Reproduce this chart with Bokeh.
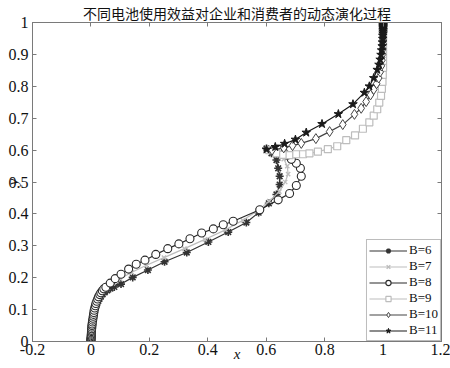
from bokeh.plotting import figure
from bokeh.models import Range1d, FixedTicker, PrintfTickFormatter, LinearAxis, Legend, LegendItem
from bokeh.embed import file_html
from bokeh.resources import INLINE

title_text = "不同电池使用效益对企业和消费者的动态演化过程"
x_ticks = [-0.2, 0, 0.2, 0.4, 0.6, 0.8, 1.0, 1.2]
y_ticks = [0, 0.1, 0.2, 0.3, 0.4, 0.5, 0.6, 0.7, 0.8, 0.9, 1.0]

# B=6 (asterisk)
b6_x = [0, 0, 0, 0.0003, 0.0005, 0.0007, 0.001, 0.0012, 0.0015, 0.0018, 0.002, 0.0025, 0.003, 0.0035,
        0.004, 0.005, 0.006, 0.007, 0.008, 0.009, 0.011, 0.013, 0.015, 0.018, 0.021, 0.025, 0.029, 0.034,
        0.040, 0.047, 0.056, 0.067, 0.080, 0.103, 0.143, 0.195, 0.252, 0.328, 0.402,
        0.470, 0.532, 0.574, 0.609, 0.635, 0.646, 0.646, 0.641, 0.635, 0.618, 0.601]
b6_y = [0, 0.003, 0.006, 0.009, 0.012, 0.015, 0.019, 0.023, 0.027, 0.031, 0.035, 0.040, 0.045, 0.050,
        0.055, 0.061, 0.067, 0.073, 0.079, 0.085, 0.092, 0.099, 0.106, 0.113, 0.120, 0.127, 0.134, 0.141,
        0.148, 0.154, 0.160, 0.166, 0.171, 0.180, 0.201, 0.224, 0.250, 0.279, 0.312,
        0.343, 0.373, 0.404, 0.433, 0.461, 0.492, 0.518, 0.543, 0.569, 0.590, 0.605]

# B=7 (x, light gray)
b7_x = [0, 0, 0, 0.0003, 0.0005, 0.0007, 0.001, 0.0012, 0.0015, 0.0018, 0.002, 0.0025, 0.003, 0.0035,
        0.004, 0.005, 0.006, 0.007, 0.008, 0.009, 0.010, 0.012, 0.014, 0.017, 0.020, 0.023, 0.027, 0.031,
        0.036, 0.042, 0.049, 0.058, 0.075, 0.10, 0.14, 0.19, 0.25, 0.32, 0.39, 0.46,
        0.52, 0.57, 0.61, 0.645, 0.665, 0.675, 0.672, 0.660, 0.640, 0.615]
b7_y = [0, 0.003, 0.006, 0.009, 0.012, 0.015, 0.019, 0.023, 0.027, 0.031, 0.035, 0.040, 0.045, 0.050,
        0.055, 0.061, 0.067, 0.073, 0.079, 0.085, 0.092, 0.099, 0.106, 0.113, 0.120, 0.127, 0.134, 0.141,
        0.148, 0.155, 0.162, 0.169, 0.182, 0.197, 0.217, 0.239, 0.263, 0.291, 0.320, 0.350,
        0.380, 0.410, 0.440, 0.470, 0.500, 0.525, 0.550, 0.572, 0.590, 0.602]

# B=8 (circle)
b8_x = [0, 0, 0, 0.0003, 0.0005, 0.0007, 0.001, 0.0012, 0.0015, 0.0018, 0.002, 0.0025, 0.003, 0.0035,
        0.004, 0.005, 0.006, 0.007, 0.008, 0.009, 0.010, 0.011, 0.013, 0.015, 0.017, 0.020, 0.023, 0.026,
        0.030, 0.034, 0.039, 0.044, 0.051, 0.066, 0.083, 0.103, 0.129, 0.155, 0.185,
        0.222, 0.263, 0.301, 0.339, 0.379, 0.419, 0.453, 0.487, 0.578, 0.641, 0.680, 0.703, 0.720, 0.717,
        0.703, 0.686, 0.672, 0.658, 0.640]
b8_y = [0, 0.003, 0.006, 0.009, 0.012, 0.015, 0.019, 0.023, 0.027, 0.031, 0.035, 0.040, 0.045, 0.050,
        0.055, 0.061, 0.067, 0.073, 0.079, 0.085, 0.091, 0.098, 0.105, 0.112, 0.119, 0.126, 0.133, 0.140,
        0.147, 0.153, 0.159, 0.165, 0.170, 0.183, 0.197, 0.211, 0.227, 0.242, 0.255,
        0.273, 0.291, 0.306, 0.322, 0.340, 0.353, 0.366, 0.377, 0.413, 0.444, 0.464, 0.489, 0.518, 0.543,
        0.559, 0.571, 0.584, 0.595, 0.603]

# B=9 (square, light gray)
b9_x = [0.61, 0.635, 0.658, 0.680, 0.703, 0.726, 0.748, 0.777, 0.811, 0.843, 0.874, 0.904, 0.931, 0.953, 0.968,
        0.980, 0.987, 0.993, 0.996, 0.998, 0.999, 1.0, 1.0, 1.0, 1.0, 1.0, 1.0, 1.0, 1.0, 1.0, 1.0, 1.0, 1.0]
b9_y = [0.600, 0.590, 0.585, 0.584, 0.587, 0.587, 0.590, 0.595, 0.603, 0.612, 0.631, 0.646, 0.667, 0.687, 0.708,
        0.728, 0.749, 0.770, 0.792, 0.814, 0.836, 0.858, 0.880, 0.902, 0.922, 0.941, 0.958, 0.970, 0.980, 0.988,
        0.994, 0.998, 1.0]

# B=10 (diamond)
b10_x = [0.62, 0.66, 0.69, 0.72, 0.77, 0.817, 0.862, 0.902, 0.925, 0.942, 0.957, 0.968, 0.978, 0.985, 0.990,
         0.994, 0.996, 0.998, 0.999, 1.0, 1.0, 1.0, 1.0, 1.0, 1.0, 1.0, 1.0, 1.0, 1.0, 1.0]
b10_y = [0.600, 0.607, 0.614, 0.621, 0.636, 0.658, 0.680, 0.712, 0.731, 0.752, 0.773, 0.790, 0.808, 0.826, 0.845,
         0.864, 0.882, 0.900, 0.917, 0.933, 0.945, 0.956, 0.966, 0.974, 0.981, 0.987, 0.992, 0.995, 0.998, 1.0]

# B=11 (star)
b11_x = [0.601, 0.631, 0.663, 0.700, 0.737, 0.791, 0.847, 0.897, 0.936, 0.953, 0.968, 0.980, 0.986, 0.990,
         0.993, 0.995, 0.997, 0.998, 0.999, 0.999, 1.0, 1.0, 1.0, 1.0, 1.0, 1.0, 1.0, 1.0, 1.0, 1.0, 1.0]
b11_y = [0.602, 0.610, 0.620, 0.633, 0.655, 0.682, 0.713, 0.744, 0.780, 0.800, 0.826, 0.852, 0.868, 0.884,
         0.899, 0.913, 0.926, 0.938, 0.949, 0.959, 0.966, 0.972, 0.977, 0.982, 0.986, 0.989, 0.992, 0.995,
         0.997, 0.999, 1.0]

labels = ["B=6", "B=7", "B=8", "B=9", "B=10", "B=11"]

SERIF = "Liberation Serif"
AX = "#7a7a7a"

p = figure(width=450, height=368, output_backend="svg", toolbar_location=None,
           x_range=Range1d(-0.2, 1.2), y_range=Range1d(0, 1),
           min_border_left=32, min_border_right=9, min_border_top=0, min_border_bottom=27)
p.title.text = title_text
p.title.align = "center"
p.title.text_font = "Noto Sans CJK SC"
p.title.text_font_size = "14px"
p.title.text_font_style = "normal"
p.title.text_color = "#111111"
p.title.standoff = 0
p.title.offset = 0
p.grid.visible = False
p.outline_line_color = AX
p.background_fill_color = "white"

for ax in p.xaxis:
    ax.ticker = FixedTicker(ticks=x_ticks)
for ax in p.yaxis:
    ax.ticker = FixedTicker(ticks=y_ticks)

def style_axis(ax, show_labels=True):
    ax.formatter = PrintfTickFormatter(format="%g")
    ax.axis_line_color = AX
    ax.major_tick_line_color = AX
    ax.major_tick_in = 4
    ax.major_tick_out = 0
    ax.minor_tick_line_color = None
    ax.major_label_text_font = SERIF
    if show_labels:
        ax.major_label_text_font_size = "16px"
        ax.major_label_text_color = "#111111"
        ax.major_label_standoff = 2
    else:
        ax.major_label_text_font_size = "1px"
        ax.major_label_text_color = None
        ax.major_label_standoff = 0

style_axis(p.xaxis[0])
style_axis(p.yaxis[0])
p.yaxis[0].major_label_standoff = 4

p.xaxis[0].axis_label = "x"
p.xaxis[0].axis_label_text_font = SERIF
p.xaxis[0].axis_label_text_font_style = "italic"
p.xaxis[0].axis_label_text_font_size = "15px"
p.xaxis[0].axis_label_text_color = "#111111"
p.xaxis[0].axis_label_standoff = -12

p.yaxis[0].axis_label = "y"
p.yaxis[0].axis_label_text_font = SERIF
p.yaxis[0].axis_label_text_font_style = "italic"
p.yaxis[0].axis_label_text_font_size = "15px"
p.yaxis[0].axis_label_text_color = "#111111"
p.yaxis[0].axis_label_standoff = -15

top = LinearAxis(ticker=FixedTicker(ticks=x_ticks))
style_axis(top, False)
p.add_layout(top, "above")
right = LinearAxis(ticker=FixedTicker(ticks=y_ticks))
style_axis(right, False)
p.add_layout(right, "right")

series = [
    (b6_x, b6_y, "#333333", "asterisk", 8, "#333333", 1.6),
    (b7_x, b7_y, "#bdbdbd", "x", 6, "#bdbdbd", 1.4),
    (b8_x, b8_y, "#2a2a2a", "circle", 8, "white", 1.1),
    (b9_x, b9_y, "#bdbdbd", "square", 7, "white", 1.2),
    (b10_x, b10_y, "#444444", "diamond", 10, "white", 1.0),
    (b11_x, b11_y, "#1a1a1a", "star", 9, "#1a1a1a", 1.0),
]

items = []
for (xs, ys, col, mk, sz, fill, lw), lab in zip(series, labels):
    r1 = p.line(xs, ys, line_color=col, line_width=1.2)
    r2 = p.scatter(xs, ys, marker=mk, size=sz, line_color=col, fill_color=fill, line_width=lw)
    items.append(LegendItem(label=lab, renderers=[r1, r2]))

legend = Legend(items=items, location="bottom_right")
legend.margin = 0
legend.padding = 2
legend.spacing = 0
legend.glyph_width = 38
legend.glyph_height = 13
legend.label_height = 13
legend.label_standoff = 2
legend.label_text_font = SERIF
legend.label_text_font_size = "13px"
legend.label_text_color = "#111111"
legend.border_line_color = AX
legend.background_fill_alpha = 1
p.add_layout(legend, "center")

open("out.html", "w").write(file_html(p, INLINE))
